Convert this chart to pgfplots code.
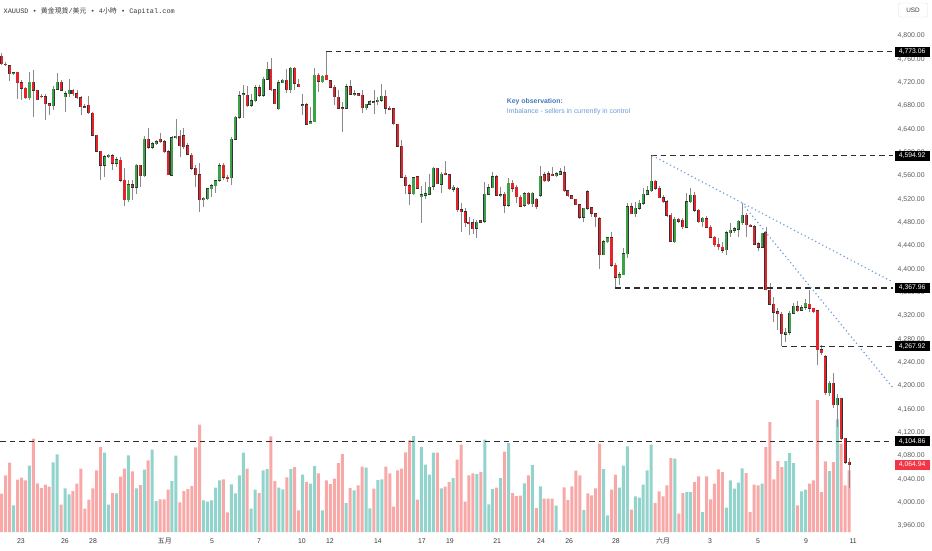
\documentclass[border=0pt]{standalone}
\usepackage{pgfplots}
\pgfplotsset{compat=1.18}
\usepackage{pgfplotstable}
\usepackage{fontspec}
\setmainfont{Liberation Sans}
\newfontfamily\cjk{Noto Sans CJK SC}
\newfontfamily\hdrmono{Liberation Mono}
\definecolor{upgreen}{HTML}{3BA247}
\definecolor{downred}{HTML}{E3252B}
\definecolor{bodyline}{HTML}{333333}
\definecolor{wickgray}{HTML}{8A8A8A}
\definecolor{volpink}{HTML}{F8A9A7}
\definecolor{volteal}{HTML}{92D3CB}
\definecolor{dashcol}{HTML}{2E2E2E}
\definecolor{dotblue}{HTML}{6E9EDB}
\definecolor{keytitle}{HTML}{4479BA}
\definecolor{keytext}{HTML}{6A9BD4}
\definecolor{tickgray}{HTML}{5A5A5A}
\definecolor{curred}{HTML}{F23645}
\definecolor{hdrgray}{HTML}{3A3A3A}

\pgfplotstableread{
x o h l c v
0 4765 4770 4750 4752 38.3
1 4752 4756 4749 4751 56.7
2 4749 4750 4722 4735 69.3
3 4735 4739 4733 4737 26.7
4 4738 4739 4692 4720 52.3
5 4720 4725 4691 4710 54.3
6 4710 4712 4692 4694 51.7
7 4694 4739 4690 4721 66.3
8 4721 4741 4662 4707 93.3
9 4707 4708 4690 4691 48.7
10 4697 4700 4693 4696 44
11 4696 4700 4656 4684 47.3
12 4684 4685 4664 4680 45.3
13 4680 4714 4673 4709 69.7
14 4709 4737 4707 4721 77.7
15 4721 4725 4706 4707 27.3
16 4696 4705 4670 4701 43.7
17 4701 4726 4696 4707 37.7
18 4707 4710 4697 4701 41
19 4701 4708 4692 4694 48.3
20 4694 4697 4665 4679 63.3
21 4679 4683 4676 4678 23.3
22 4681 4697 4667 4668 32.3
23 4668 4669 4628 4630 43.7
24 4630 4631 4601 4602 61.7
25 4602 4603 4553 4578 85
26 4578 4596 4559 4593 79.3
27 4594 4598 4591 4596 27.3
28 4595 4598 4570 4582 39
29 4582 4593 4575 4588 38.7
30 4587 4593 4550 4553 55.3
31 4553 4573 4509 4519 63.3
32 4519 4553 4516 4545 76.7
33 4545 4553 4519 4541 60.7
34 4541 4581 4529 4578 43.7
35 4578 4579 4542 4560 47
36 4560 4629 4559 4623 62.3
37 4623 4643 4607 4609 71.7
38 4609 4619 4606 4615 82.3
39 4615 4622 4613 4619 31
40 4623 4633 4616 4619 32.7
41 4619 4622 4600 4602 32.7
42 4602 4604 4561 4562 42.3
43 4561 4628 4560 4626 51
44 4626 4657 4623 4628 76.3
45 4628 4639 4593 4612 29.7
46 4629 4642 4607 4610 41
47 4612 4616 4596 4597 43
48 4596 4599 4570 4573 46
49 4573 4579 4542 4562 84.7
50 4562 4582 4499 4519 107.3
51 4519 4524 4507 4522 31.7
52 4521 4540 4519 4538 30.3
53 4538 4547 4524 4543 31.7
54 4543 4553 4531 4552 44.3
55 4553 4583 4550 4578 51.7
56 4578 4582 4553 4558 52.7
57 4558 4561 4550 4555 19.7
58 4557 4627 4544 4623 47.7
59 4623 4662 4622 4661 38.7
60 4661 4705 4657 4698 56.7
61 4699 4716 4659 4701 79.3
62 4698 4714 4679 4680 63.3
63 4681 4700 4679 4689 23.3
64 4689 4716 4687 4711 42.3
65 4711 4716 4696 4698 39
66 4698 4730 4696 4726 61.7
67 4726 4756 4725 4743 63
68 4743 4762 4706 4708 95.7
69 4708 4710 4683 4684 51
70 4675 4724 4673 4720 44.3
71 4720 4727 4719 4724 42.7
72 4724 4744 4703 4708 54.7
73 4708 4746 4702 4745 63
74 4745 4746 4708 4719 65
75 4717 4726 4712 4713 21.7
76 4681 4701 4665 4682 57.3
77 4682 4685 4647 4649 50
78 4650 4679 4649 4653 48.3
79 4653 4745 4653 4733 66
80 4733 4736 4704 4722 58.7
81 4722 4733 4720 4731 21.7
82 4733 4773.06 4724 4725 51.7
83 4723 4724 4710 4712 48
84 4712 4716 4682 4696 53.3
85 4695 4708 4674 4676 69
86 4677 4687 4636 4675 78
87 4676 4718 4674 4713 29
88 4713 4724 4699 4700 44
89 4699 4707 4697 4701 41.7
90 4701 4702 4697 4698 46.7
91 4698 4707 4668 4677 65.3
92 4677 4684 4673 4683 64.3
93 4683 4690 4682 4687 23.7
94 4687 4708 4667 4686 43.3
95 4687 4696 4681 4690 52
96 4690 4718 4687 4697 52.7
97 4697 4707 4666 4676 65.3
98 4676 4680 4673 4675 58.7
99 4675 4676 4647 4650 25.3
100 4649 4650 4610 4611 61.7
101 4611 4622 4556 4558 63.3
102 4558 4562 4530 4543 79.7
103 4543 4547 4510 4530 91.7
104 4530 4559 4527 4557 96
105 4559 4560 4537 4539 32.3
106 4524 4542 4479 4528 85
107 4527 4549 4521 4530 67.3
108 4529 4564 4527 4541 57.3
109 4542 4576 4536 4573 79.3
110 4573 4574 4546 4547 79.3
111 4546 4567 4530 4563 43.7
112 4565 4586 4561 4562 45.3
113 4562 4563 4536 4538 50
114 4537 4545 4533 4541 54
115 4539 4541 4499 4502 72.3
116 4502 4513 4464 4499 87.3
117 4499 4505 4473 4480 30.3
118 4481 4490 4459 4479 56.7
119 4480 4487 4461 4470 58.7
120 4470 4484 4453 4481 58
121 4483 4485 4479 4481 60
122 4482 4549 4480 4529 92.3
123 4529 4547 4527 4540 27.7
124 4540 4567 4539 4559 43
125 4559 4562 4525 4527 44.3
126 4526 4541 4524 4528 54
127 4529 4533 4496 4510 80.3
128 4510 4556 4507 4548 89
129 4548 4553 4533 4539 39
130 4541 4544 4513 4524 36
131 4524 4527 4506 4508 36.3
132 4510 4533 4507 4530 48.7
133 4530 4533 4510 4512 56.7
134 4512 4533 4507 4530 67
135 4520 4522 4504 4507 24
136 4527 4577 4524 4560 45.7
137 4562 4566 4549 4552 33.3
138 4564 4569 4550 4552 33.3
139 4563 4575 4561 4562 33.3
140 4561 4566 4559 4564 26.3
141 4563 4573 4561 4567 1.7
142 4566 4577 4533 4535 44.7
143 4535 4536 4524 4526 32
144 4526 4527 4520 4521 45.7
145 4520 4521 4510 4511 61.3
146 4511 4512 4487 4489 56.7
147 4489 4506 4482 4505 22
148 4533 4536 4502 4505 38.7
149 4506 4507 4490 4496 36.7
150 4495 4496 4473 4490 43.7
151 4487 4490 4400 4425 88.3
152 4425 4450 4424 4447 63
153 4447 4455 4445 4454 16.7
154 4454 4464 4404 4407 42.3
155 4407 4410 4367.96 4386 57.3
156 4386 4396 4373 4391 44.3
157 4391 4436 4390 4427 66.3
158 4427 4513 4419 4507 85.7
159 4507 4513 4494 4495 22.3
160 4495 4516 4489 4505 35.7
161 4505 4519 4502 4513 34.3
162 4513 4539 4511 4529 47.3
163 4529 4542 4527 4535 61.7
164 4535 4594.92 4533 4551 87.3
165 4551 4553 4536 4539 29
166 4539 4542 4522 4523 40.7
167 4523 4527 4513 4516 35.7
168 4516 4519 4490 4493 46.7
169 4493 4496 4447 4448 74
170 4447 4490 4446 4486 73.3
171 4486 4488 4479 4482 18.3
172 4484 4488 4470 4473 39
173 4472 4530 4470 4516 40
174 4516 4539 4514 4527 40
175 4527 4533 4499 4501 50
176 4501 4504 4479 4482 55.7
177 4482 4490 4473 4488 20
178 4487 4491 4470 4472 55.7
179 4472 4476 4453 4455 32.7
180 4455 4457 4439 4442 48.3
181 4443 4453 4433 4439 62.7
182 4438 4447 4428 4433 60
183 4434 4466 4424 4463 24.3
184 4463 4479 4456 4467 51.7
185 4467 4473 4462 4470 43.3
186 4469 4485 4456 4482 49.3
187 4480 4513 4476 4493 63.7
188 4493 4497 4456 4476 59
189 4476 4477 4472 4473 20
190 4473 4476 4442 4443 47.3
191 4444 4447 4432 4438 46.7
192 4438 4462 4436 4462 48.3
193 4463 4473 4364 4365 85
194 4364 4376 4339 4340 110
195 4340 4353 4310 4326 52.7
196 4327 4333 4296 4324 71
197 4323 4327 4267.92 4290 65
198 4289 4299 4276 4292 71
199 4292 4329 4288 4325 79
200 4325 4342 4323 4337 69
201 4336 4345 4327 4329 26.7
202 4330 4338 4328 4334 40.7
203 4335 4349 4330 4342 42.3
204 4340 4364 4327 4333 48.3
205 4333 4334 4326 4327 51.7
206 4329 4330 4236 4262 132
207 4262 4270 4253 4257 40
208 4250 4253 4185 4188 70.7
209 4188 4209 4182 4205 61
210 4205 4222 4162 4168 70
211 4168 4186 4130 4179 112.7
212 4179 4180 4108 4110 88.3
213 4110 4111 4067 4069 46.7
214 4069 4076 4025 4064.94 61.7
}\candles

\tikzset{
  pricebox/.style={fill=black, text=white, anchor=west, xshift=1.5pt,
    font=\fontsize{6.8}{7}\selectfont, inner xsep=1pt, inner ysep=1.5pt,
    minimum width=35pt, minimum height=10pt},
}

\begin{document}
\begin{tikzpicture}
% ---------- volume (behind) ----------
\begin{axis}[
  width=893pt, height=532pt, scale only axis,
  at={(0,0)}, anchor=south west,
  hide axis,
  xmin=-0.43, xmax=225.08, ymin=0, ymax=532,
  ybar, bar width=3pt,
]
\addplot[fill=volpink, draw=none, bar shift=0pt,
  restrict expr to domain={\thisrow{c}-\thisrow{o}}{-10000:0}]
  table[x=x, y=v] {\candles};
\addplot[fill=volteal, draw=none, bar shift=0pt,
  restrict expr to domain={\thisrow{c}-\thisrow{o}}{0.0001:10000}]
  table[x=x, y=v] {\candles};
\end{axis}

% ---------- price ----------
\begin{axis}[
  width=893pt, height=532pt, scale only axis,
  at={(0,0)}, anchor=south west,
  xmin=-0.43, xmax=225.08, ymin=3949.7, ymax=4861.7,
  clip=false,
  axis line style={draw=none},
  major tick length=0pt, tick style={draw=none},
  scaled y ticks=false,
  ytick={3960,4000,...,4800},
  yticklabel pos=right,
  /pgf/number format/assume math mode=true,
  yticklabel style={/pgf/number format/fixed, /pgf/number format/fixed zerofill,
    /pgf/number format/precision=2, /pgf/number format/1000 sep={,},
    font=\fontsize{6.9}{7}\selectfont, text=tickgray, anchor=west, xshift=1.2pt},
  xtick={4.87,15.98,23.06,41.2,53.1,65,75.8,82.9,95,106.1,113.2,125.1,136.2,143.3,155.1,167,178.9,191,203.1,215},
  xticklabels={23,26,28,{\cjk 五月},5,7,10,12,14,17,19,21,24,26,28,{\cjk 六月},3,5,9,11},
  xticklabel style={font=\fontsize{6.9}{7}\selectfont, text=hdrgray, anchor=center, yshift=-9pt},
]
% wicks
\addplot[draw=none, mark=none,
  error bars/.cd, y dir=both, y explicit, error mark=none,
  error bar style={line width=0.8pt, draw=wickgray}]
  table[x=x, y expr={(\thisrow{h}+\thisrow{l})/2}, y error expr={(\thisrow{h}-\thisrow{l})/2}] {\candles};
% bodies: outline
\addplot[draw=none, mark=none,
  error bars/.cd, y dir=both, y explicit, error mark=none,
  error bar style={line width=3pt, draw=bodyline}]
  table[x=x, y expr={(\thisrow{o}+\thisrow{c})/2}, y error expr={abs(\thisrow{c}-\thisrow{o})/2+0.8}] {\candles};
% bodies: up
\addplot[draw=none, mark=none,
  restrict expr to domain={\thisrow{c}-\thisrow{o}}{0:10000},
  error bars/.cd, y dir=both, y explicit, error mark=none,
  error bar style={line width=2.2pt, draw=upgreen}]
  table[x=x, y expr={(\thisrow{o}+\thisrow{c})/2}, y error expr={abs(\thisrow{c}-\thisrow{o})/2}] {\candles};
% bodies: down
\addplot[draw=none, mark=none,
  restrict expr to domain={\thisrow{c}-\thisrow{o}}{-10000:0},
  error bars/.cd, y dir=both, y explicit, error mark=none,
  error bar style={line width=2.2pt, draw=downred}]
  table[x=x, y expr={(\thisrow{o}+\thisrow{c})/2}, y error expr={abs(\thisrow{c}-\thisrow{o})/2}] {\candles};

% dashed levels
\addplot[dashcol, line width=1.4pt, dash pattern=on 5.5pt off 4pt] coordinates {(82,4773.06) (225.08,4773.06)};
\addplot[dashcol, line width=1.4pt, dash pattern=on 5.5pt off 4pt] coordinates {(164,4594.92) (225.08,4594.92)};
\addplot[dashcol, line width=1.4pt, dash pattern=on 5.5pt off 4pt] coordinates {(155,4367.96) (225.08,4367.96)};
\addplot[dashcol, line width=1.4pt, dash pattern=on 5.5pt off 4pt] coordinates {(197,4267.92) (225.08,4267.92)};
\addplot[dashcol, line width=1.4pt, dash pattern=on 5.5pt off 4pt] coordinates {(-0.43,4104.86) (225.08,4104.86)};
% dotted trend lines
\addplot[dotblue, line width=1.2pt, dash pattern=on 1.2pt off 2.8pt] coordinates {(164.3,4594.92) (225.08,4378)};
\addplot[dotblue, line width=1.2pt, dash pattern=on 1.2pt off 2.8pt] coordinates {(187,4513) (225.08,4196.6)};

\coordinate (b1) at (axis cs:225.08,4773.06);
\coordinate (b2) at (axis cs:225.08,4594.92);
\coordinate (b3) at (axis cs:225.08,4367.96);
\coordinate (b4) at (axis cs:225.08,4267.92);
\coordinate (b5) at (axis cs:225.08,4104.86);
\coordinate (b6) at (axis cs:225.08,4064.94);
\end{axis}

\node[pricebox] at (b1) {4,773.06};
\node[pricebox] at (b2) {4,594.92};
\node[pricebox] at (b3) {4,367.96};
\node[pricebox] at (b4) {4,267.92};
\node[pricebox] at (b5) {4,104.86};
\node[pricebox, fill=curred] at (b6) {4,064.94};

% header
\node[anchor=west, inner sep=0pt, text=hdrgray, font=\fontsize{6.9}{7}\selectfont] at (3.5pt,520.3pt)
  {\hdrmono XAUUSD • {\cjk 黄金現貨}/{\cjk 美元} • 4{\cjk 小時} • Capital.com};
% USD box
\node[draw=black!12, rounded corners=1.5pt, text=hdrgray, font=\fontsize{6.4}{7}\selectfont,
  minimum width=29pt, minimum height=14pt, inner sep=1pt] at (913pt,522pt) {USD};
% annotation
\node[anchor=west, inner sep=0pt, text=keytitle, font=\fontsize{6.9}{8}\selectfont\bfseries] at (506.7pt,430.7pt) {Key observation:};
\node[anchor=west, inner sep=0pt, text=keytext, font=\fontsize{6.9}{8}\selectfont] at (506.7pt,420pt) {Imbalance - sellers in currently in control};

\pgfresetboundingbox
\path[use as bounding box] (0pt,-18pt) rectangle (932pt,532pt);
\end{tikzpicture}
\end{document}
